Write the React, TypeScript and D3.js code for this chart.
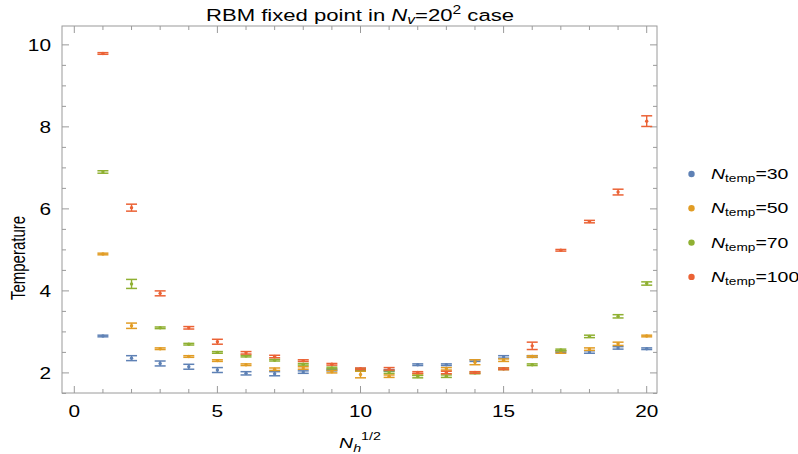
import React from 'react';
import * as d3 from 'd3';

const nh = d3.range(1, 21);

const temp30 = [2.90, 2.36, 2.23, 2.15, 2.07, 1.99, 1.98, 2.02, 2.07, 2.09, 2.06, 2.20, 2.20, 2.30, 2.39, 2.40, 2.52, 2.51, 2.61, 2.59];
const err30 = [0.02, 0.06, 0.06, 0.06, 0.06, 0.04, 0.05, 0.03, 0.02, 0.02, 0.02, 0.02, 0.02, 0.02, 0.03, 0.02, 0.02, 0.03, 0.03, 0.02];

const temp50 = [4.90, 3.15, 2.59, 2.40, 2.30, 2.20, 2.09, 2.12, 2.03, 1.96, 1.92, 1.96, 2.10, 2.26, 2.31, 2.40, 2.51, 2.58, 2.71, 2.90];
const err50 = [0.02, 0.065, 0.02, 0.02, 0.02, 0.02, 0.03, 0.03, 0.03, 0.08, 0.03, 0.02, 0.03, 0.06, 0.03, 0.02, 0.03, 0.03, 0.04, 0.02];

const temp70 = [6.90, 4.17, 3.10, 2.70, 2.50, 2.41, 2.31, 2.21, 2.12, 2.08, 2.02, 1.91, 1.92, 2.00, 2.10, 2.20, 2.56, 2.89, 3.38, 4.18];
const err70 = [0.03, 0.11, 0.02, 0.02, 0.02, 0.02, 0.02, 0.02, 0.02, 0.02, 0.03, 0.03, 0.03, 0.02, 0.02, 0.02, 0.02, 0.03, 0.04, 0.04];

const temp100 = [9.79, 6.03, 3.94, 3.10, 2.76, 2.49, 2.40, 2.30, 2.21, 2.10, 2.10, 2.01, 2.01, 2.01, 2.10, 2.66, 4.99, 5.69, 6.41, 8.14];
const err100 = [0.02, 0.085, 0.06, 0.03, 0.06, 0.03, 0.03, 0.02, 0.02, 0.02, 0.03, 0.02, 0.03, 0.02, 0.02, 0.09, 0.02, 0.03, 0.07, 0.13];

const seriesLabels = ['30', '50', '70', '100'];
const seriesColors = ['#5E81B5', '#E19C24', '#8FB032', '#EB6235'];
const seriesValues = [temp30, temp50, temp70, temp100];
const seriesErrors = [err30, err50, err70, err100];

const xMajor = [0, 5, 10, 15, 20];
const yMajor = [2, 4, 6, 8, 10];

const FONT = '"Liberation Sans", Arial, sans-serif';
const SX = 1.3; // the reference text is stretched horizontally

export default function App() {
  const width = 798;
  const height = 454;
  const frame = { left: 62, right: 657, top: 26, bottom: 393 };

  const x = d3.scaleLinear().domain([-0.43, 20.36]).range([frame.left, frame.right]);
  const y = d3.scaleLinear().domain([1.51, 10.46]).range([frame.bottom, frame.top]);

  const xMinor = d3.range(0, 21, 1).filter(v => !xMajor.includes(v));
  const yMinor = d3.range(1.5, 10.5, 0.5).filter(v => !yMajor.includes(v));

  const axisColor = '#9a9a9a';
  const capHalf = 5.5;

  return (
    <svg width={width} height={height} style={{ position: 'absolute', left: 0, top: 0 }} fontFamily={FONT}>
      <rect x={0} y={0} width={width} height={height} fill="white" />

      {/* title */}
      <text transform={`translate(360,20.5) scale(${SX},1)`} textAnchor="middle" fontSize={17} fill="#000">
        RBM fixed point in <tspan fontStyle="italic">N</tspan>
        <tspan fontStyle="italic" fontSize={12} dy={3}>v</tspan>
        <tspan dy={-3}>=20</tspan>
        <tspan fontSize={12} dy={-7}>2</tspan>
        <tspan dy={7}> case</tspan>
      </text>

      {/* frame */}
      <rect x={frame.left} y={frame.top} width={frame.right - frame.left} height={frame.bottom - frame.top}
        fill="none" stroke={axisColor} strokeWidth={1} />

      {/* x ticks bottom & top */}
      {xMajor.map(v => (
        <g key={'xM' + v}>
          <line x1={x(v)} x2={x(v)} y1={frame.bottom} y2={frame.bottom - 7} stroke={axisColor} />
          <line x1={x(v)} x2={x(v)} y1={frame.top} y2={frame.top + 7} stroke={axisColor} />
          <text transform={`translate(${x(v)},417) scale(${SX},1)`} textAnchor="middle" fontSize={16} fill="#000">{v}</text>
        </g>
      ))}
      {xMinor.map(v => (
        <g key={'xm' + v}>
          <line x1={x(v)} x2={x(v)} y1={frame.bottom} y2={frame.bottom - 4} stroke={axisColor} />
          <line x1={x(v)} x2={x(v)} y1={frame.top} y2={frame.top + 4} stroke={axisColor} />
        </g>
      ))}

      {/* y ticks left & right */}
      {yMajor.map(v => (
        <g key={'yM' + v}>
          <line x1={frame.left} x2={frame.left + 7} y1={y(v)} y2={y(v)} stroke={axisColor} />
          <line x1={frame.right} x2={frame.right - 7} y1={y(v)} y2={y(v)} stroke={axisColor} />
          <text transform={`translate(51,${y(v) + 5.8}) scale(${SX},1)`} textAnchor="end" fontSize={16} fill="#000">{v}</text>
        </g>
      ))}
      {yMinor.map(v => (
        <g key={'ym' + v}>
          <line x1={frame.left} x2={frame.left + 4} y1={y(v)} y2={y(v)} stroke={axisColor} />
          <line x1={frame.right} x2={frame.right - 4} y1={y(v)} y2={y(v)} stroke={axisColor} />
        </g>
      ))}

      {/* axis labels */}
      <text transform={`translate(25,258) rotate(-90) scale(1,${SX})`} textAnchor="middle" fontSize={15} fill="#000">Temperature</text>
      <text transform={`translate(360,448) scale(${SX},1)`} textAnchor="middle" fontSize={15} fill="#000">
        <tspan fontStyle="italic">N</tspan>
        <tspan fontStyle="italic" fontSize={11} dy={4}>h</tspan>
        <tspan fontSize={11} dy={-12}>1/2</tspan>
      </text>

      {/* data */}
      {seriesValues.map((vals, si) => (
        <g key={'s' + si} stroke={seriesColors[si]} fill={seriesColors[si]}>
          {vals.map((v, i) => {
            const cx = x(nh[i]);
            const e = seriesErrors[si][i];
            const yt = y(v + e);
            const yb = y(v - e);
            return (
              <g key={i}>
                <line x1={cx} x2={cx} y1={yt} y2={yb} strokeWidth={1.4} />
                <line x1={cx - capHalf} x2={cx + capHalf} y1={yt} y2={yt} strokeWidth={1.5} />
                <line x1={cx - capHalf} x2={cx + capHalf} y1={yb} y2={yb} strokeWidth={1.5} />
                <circle cx={cx} cy={y(v)} r={1.7} stroke="none" />
              </g>
            );
          })}
        </g>
      ))}

      {/* legend */}
      {seriesLabels.map((lab, i) => {
        const ly = 174 + i * 34.3;
        return (
          <g key={'l' + i}>
            <circle cx={691.5} cy={ly} r={3.2} fill={seriesColors[i]} />
            <text transform={`translate(711,${ly + 5}) scale(${SX},1)`} fontSize={15} fill="#000">
              <tspan fontStyle="italic">N</tspan>
              <tspan fontSize={10.5} dy={3}>temp</tspan>
              <tspan dy={-3}>={lab}</tspan>
            </text>
          </g>
        );
      })}
    </svg>
  );
}
